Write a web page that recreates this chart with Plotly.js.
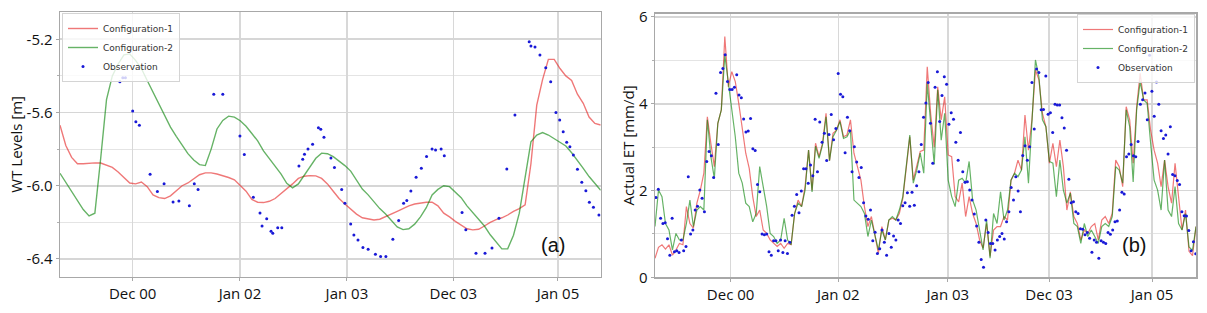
<!DOCTYPE html>
<html>
<head>
<meta charset="utf-8">
<script src="https://cdn.plot.ly/plotly-3.0.1.min.js"></script>
<style>html,body{margin:0;padding:0;background:#fff}#chart{width:1207px;height:313px}</style>
</head>
<body>
<div id="chart"></div>
<script>
// ---------- shared tick labels ----------
const xTickLabels = ['Dec 00', 'Jan 02', 'Jan 03', 'Dec 03', 'Jan 05'];
// positions of the tick labels on each panel (days from the start of the record)
const xTickDaysA = [250, 619, 987, 1353, 1713];
const xTickDaysB = [260, 630, 1007, 1355, 1709];

// ---------- panel (a): water-table levels ----------
// simulated series sampled every 20 days starting at day 0
const wtStepDays = 20;
const wtConfig1 = [-5.67, -5.78, -5.845, -5.88, -5.88, -5.877, -5.875, -5.876, -5.888, -5.90,
  -5.925, -5.955, -5.985, -5.99, -5.98, -6.005, -6.05, -6.065, -6.07, -6.055,
  -6.03, -6.0, -5.985, -5.96, -5.94, -5.93, -5.93, -5.936, -5.945, -5.955,
  -5.968, -6.0, -6.03, -6.075, -6.09, -6.092, -6.085, -6.07, -6.045, -6.02,
  -5.99, -5.96, -5.948, -5.945, -5.946, -5.96, -5.99, -6.03, -6.07, -6.1,
  -6.13, -6.155, -6.175, -6.183, -6.187, -6.183, -6.17, -6.155, -6.14, -6.125,
  -6.11, -6.10, -6.095, -6.09, -6.09, -6.11, -6.15, -6.17, -6.195, -6.215,
  -6.235, -6.241, -6.238, -6.22, -6.2, -6.185, -6.175, -6.16, -6.14, -6.125,
  -6.105, -5.88, -5.56, -5.42, -5.31, -5.31, -5.36, -5.40, -5.425, -5.50,
  -5.55, -5.625, -5.66, -5.668];
const wtConfig2 = [-5.932, -5.98, -6.035, -6.08, -6.13, -6.165, -6.15, -5.85, -5.53, -5.40,
  -5.335, -5.285, -5.28, -5.315, -5.36, -5.425, -5.49, -5.555, -5.62, -5.68,
  -5.73, -5.78, -5.825, -5.86, -5.885, -5.89, -5.80, -5.69, -5.643, -5.62,
  -5.625, -5.645, -5.675, -5.715, -5.755, -5.81, -5.85, -5.89, -5.935, -5.987,
  -6.012, -5.99, -5.945, -5.896, -5.85, -5.822, -5.825, -5.841, -5.865, -5.89,
  -5.92, -5.97, -6.018, -6.05, -6.09, -6.125, -6.155, -6.19, -6.225, -6.24,
  -6.235, -6.21, -6.17, -6.12, -6.05, -6.02, -6.0, -6.005, -6.035, -6.065,
  -6.11, -6.148, -6.185, -6.22, -6.268, -6.305, -6.345, -6.345, -6.27, -6.15,
  -5.95, -5.76, -5.723, -5.71, -5.723, -5.743, -5.759, -5.783, -5.82, -5.86,
  -5.905, -5.95, -5.99, -6.025];
// observations (irregular dates)
const wtObsDays = [206, 216, 225, 250, 261, 273, 310, 335, 358, 389,
  409, 445, 462, 475, 529, 560, 619, 634, 665, 688,
  695, 711, 726, 732, 749, 763, 822, 835, 841, 853,
  869, 889, 897, 908, 932, 944, 969, 980, 1000, 1011,
  1025, 1042, 1060, 1085, 1103, 1121, 1145, 1165, 1182, 1193,
  1207, 1225, 1243, 1261, 1280, 1292, 1311, 1322, 1383, 1396,
  1431, 1462, 1486, 1510, 1537, 1565, 1614, 1620, 1634, 1651,
  1671, 1688, 1706, 1719, 1731, 1743, 1754, 1766, 1780, 1795,
  1809, 1821, 1835, 1854];
const wtObs = [-5.432, -5.41, -5.41, -5.592, -5.65, -5.67, -5.937, -6.032, -5.989, -6.089,
  -6.083, -6.109, -5.989, -6.021, -5.50, -5.50, -5.728, -5.83, -6.063, -6.149,
  -6.22, -6.18, -6.249, -6.26, -6.23, -6.23, -5.892, -5.855, -5.828, -5.80,
  -5.774, -5.683, -5.692, -5.735, -5.848, -5.90, -6.02, -6.096, -6.209, -6.269,
  -6.296, -6.338, -6.347, -6.374, -6.387, -6.387, -6.292, -6.19, -6.096, -6.081,
  -6.029, -5.954, -5.905, -5.841, -5.80, -5.805, -5.80, -5.836, -6.146, -6.241,
  -6.369, -6.369, -6.34, -6.178, -5.908, -5.613, -5.213, -5.237, -5.242, -5.286,
  -5.355, -5.432, -5.60, -5.641, -5.705, -5.763, -5.787, -5.832, -5.91, -5.981,
  -6.027, -6.09, -6.118, -6.16];

// ---------- panel (b): actual ET ----------
// simulated series sampled every 12 days starting at day 0
const etStepDays = 12;
const etConfig1 = [0.44, 0.69, 0.75, 0.65, 0.75, 0.51, 0.63, 0.78, 0.75, 1.63,
  1.24, 1.13, 1.71, 2.01, 2.40, 3.70, 3.09, 2.55, 3.55, 3.86,
  5.55, 4.39, 4.74, 4.51, 4.01, 3.43, 2.86, 2.51, 1.86, 1.40,
  1.55, 1.09, 1.01, 0.86, 0.78, 0.71, 0.78, 0.67, 0.78,
  0.75, 1.47, 1.78, 1.63, 2.09, 2.93, 2.01, 3.09, 2.78, 3.09,
  3.78, 2.69, 3.32, 3.39, 3.63, 3.24, 3.28, 3.63, 2.86, 2.55,
  2.24, 1.63, 1.17, 1.40, 1.01, 0.55, 1.17, 0.86, 1.32, 1.36,
  1.32, 1.47, 1.82, 2.55, 3.24, 2.24, 2.55, 2.90, 2.93, 4.85,
  3.75, 3.0, 4.39, 3.63, 4.16, 2.82, 2.78, 1.86, 1.74, 2.17,
  1.40, 1.86, 1.47, 1.24, 0.86, 0.67, 1.24, 0.48, 1.09, 1.17,
  1.17, 1.40, 1.32, 2.24, 2.40, 2.70, 2.47, 3.74, 2.93, 3.63,
  4.78, 4.55, 3.78, 3.47, 2.63, 3.09, 2.55, 3.16, 2.55, 1.55,
  1.97, 1.40, 1.24, 0.86, 1.09, 1.01, 1.17, 1.24, 0.86, 1.32,
  1.40, 1.24, 1.47, 2.70, 2.55, 2.09, 3.93, 3.63, 2.63, 3.93,
  4.70, 4.09, 4.09, 3.39, 2.93, 2.63, 2.09, 2.70, 2.09, 1.71,
  2.63, 1.78, 1.09, 1.55, 0.6, 0.5, 1.17];
const etConfig2 = [1.17, 2.01, 1.86, 1.24, 1.09, 0.63, 1.01, 0.86, 0.86, 1.24,
  1.78, 1.17, 1.55, 1.63, 1.55, 3.63, 2.78, 2.28, 3.55, 3.86,
  5.12, 4.47, 3.93, 3.24, 2.40, 2.17, 1.71, 1.63, 1.28, 1.47,
  2.55, 2.09, 1.63, 1.01, 0.94, 0.78, 0.86, 1.36, 0.86,
  0.75, 1.47, 1.71, 1.63, 2.01, 2.93, 1.97, 3.02, 2.74, 3.05,
  3.70, 2.69, 3.24, 3.39, 3.59, 3.20, 3.24, 3.39, 1.78, 1.71,
  1.63, 1.47, 0.94, 1.32, 0.94, 0.63, 1.09, 0.86, 1.32, 1.40,
  1.32, 1.55, 1.86, 2.55, 3.28, 2.17, 2.47, 2.86, 2.40, 4.47,
  3.6, 2.6, 4.32, 3.16, 3.78, 2.24, 1.86, 1.63, 2.24, 2.28,
  2.17, 2.67, 1.78, 1.55, 1.09, 0.63, 1.32, 0.44, 1.47, 1.24,
  1.97, 1.32, 1.55, 2.24, 2.40, 2.32, 2.47, 3.24, 2.17, 3.63,
  5.01, 4.62, 3.63, 3.47, 2.67, 2.63, 1.86, 2.70, 2.01, 1.71,
  1.94, 1.24, 1.17, 0.78, 1.24, 0.94, 1.09, 0.94, 0.78, 1.17,
  1.24, 1.17, 1.40, 2.55, 2.47, 2.17, 3.86, 3.47, 2.20, 3.86,
  4.51, 4.09, 4.01, 3.09, 2.24, 2.01, 1.55, 2.70, 1.55, 1.40,
  2.09, 1.24, 1.09, 1.47, 0.7, 0.62, 1.17];
// observations: regular series starting at day 3.4, one value every 7.93 days
const etObsStartDay = 3.4;
const etObsStepDays = 7.93;
const etObs = [1.84, 2.03, 1.36, 1.24, 1.26, 0.89, 0.51, 1.36, 0.59, 0.61,
  0.57, 0.86, 0.61, 0.71, 2.32, 1.00, 1.09, 1.55, 1.64, 2.01,
  1.82, 1.51, 2.67, 2.90, 2.80, 2.30, 4.24, 3.06, 4.72, 4.81,
  5.13, 4.51, 4.33, 4.33, 4.38, 4.67, 4.20, 4.14, 3.65, 3.35,
  3.37, 3.66, 2.96, 2.92, 2.14, 1.97, 1.00, 0.98, 1.00, 0.59,
  0.51, 0.84, 0.84, 0.61, 0.86, 0.57, 0.84,
  0.55, 0.81, 1.43, 1.64, 1.91, 1.49, 1.99, 2.50, 2.50, 2.17,
  2.59, 2.34, 3.64, 2.43, 3.58, 3.11, 3.32, 2.69, 3.29, 3.75,
  3.17, 3.43, 4.70, 4.22, 4.16, 2.87, 3.69, 3.38, 2.43, 3.01,
  2.66, 2.30, 2.53, 1.72, 1.41, 1.34, 1.55, 0.84, 1.04, 0.55,
  0.66, 1.09, 0.81, 0.51, 1.01, 0.69, 0.95, 0.86, 1.32, 1.24,
  1.65, 1.72, 1.95, 1.64, 1.96, 1.66, 2.11, 2.43, 3.06, 3.69, 4.02,
  4.49, 3.55, 2.63, 4.38, 4.74, 3.59, 4.19, 4.62, 4.45, 3.53,
  3.79, 3.64, 3.11, 2.70, 3.34, 2.43, 2.19, 2.20, 2.01, 1.78,
  1.46, 1.18, 0.81, 0.41, 0.23, 1.32, 1.03, 0.78, 0.78, 0.63,
  0.86, 0.94, 1.01, 0.88, 1.28, 1.51, 2.07, 1.78, 2.32, 1.99,
  1.51, 2.81, 3.03, 2.70, 3.01, 4.49, 3.42, 4.80, 4.72, 3.86,
  3.87, 4.64, 3.76, 3.79, 3.34, 3.99, 3.97, 3.97, 3.68, 3.44,
  2.93, 2.26, 1.72, 1.74, 1.51, 1.47, 1.12, 1.11, 0.98, 1.03,
  0.90, 0.58, 0.86, 0.81, 0.44, 0.84, 0.81, 0.78, 1.03, 0.99,
  1.09, 1.28, 1.30, 1.55, 1.96, 1.92, 2.78, 2.84, 3.06, 2.80,
  2.78, 3.13, 3.99, 4.09, 4.25, 3.63, 5.12, 4.29, 3.71, 4.50,
  3.99, 3.38, 3.20, 3.28, 2.84, 3.47, 2.37, 2.34, 2.23, 2.14,
  1.51, 1.42, 1.41, 1.08, 0.61, 0.82, 0.54];

const seriesNames = ['Configuration-1', 'Configuration-2', 'Observation'];

// ---------- styles ----------
const RED = 'rgba(228,30,30,0.6)';
const GREEN = 'rgba(0,128,0,0.6)';
const BLUE = 'rgb(25,25,215)';
const W = 1207, H = 313;

const traces = [
  {type:'scatter', mode:'lines', name:seriesNames[0], x0:0, dx:wtStepDays, y:wtConfig1,
   line:{color:RED, width:1.4}, xaxis:'x', yaxis:'y', legend:'legend'},
  {type:'scatter', mode:'lines', name:seriesNames[1], x0:0, dx:wtStepDays, y:wtConfig2,
   line:{color:GREEN, width:1.4}, xaxis:'x', yaxis:'y', legend:'legend'},
  {type:'scatter', mode:'markers', name:seriesNames[2], x:wtObsDays, y:wtObs,
   marker:{color:BLUE, size:3}, xaxis:'x', yaxis:'y', legend:'legend'},
  {type:'scatter', mode:'lines', name:seriesNames[0], x0:0, dx:etStepDays, y:etConfig1,
   line:{color:RED, width:1.2}, xaxis:'x2', yaxis:'y2', legend:'legend2'},
  {type:'scatter', mode:'lines', name:seriesNames[1], x0:0, dx:etStepDays, y:etConfig2,
   line:{color:GREEN, width:1.2}, xaxis:'x2', yaxis:'y2', legend:'legend2'},
  {type:'scatter', mode:'markers', name:seriesNames[2], x0:etObsStartDay, dx:etObsStepDays, y:etObs,
   marker:{color:BLUE, size:3}, xaxis:'x2', yaxis:'y2', legend:'legend2'}
];

const axisCommon = {
  showline:true, mirror:true, linecolor:'#a8a8a8', linewidth:1.5,
  ticks:'outside', ticklen:3, tickwidth:1, tickcolor:'#a8a8a8',
  showgrid:true, gridcolor:'#d8d8d8', gridwidth:1.3, zeroline:false,
  tickfont:{family:'Open Sans, sans-serif', size:15, color:'#111'}
};
const legendCommon = {
  bgcolor:'rgba(255,255,255,0.8)', bordercolor:'#d4d4d4', borderwidth:1,
  font:{family:'DejaVu Sans, sans-serif', size:9, color:'#333'},
  itemwidth:30, yanchor:'top', tracegroupgap:0
};

const layout = {
  width:W, height:H,
  margin:{l:0, r:0, t:0, b:0},
  paper_bgcolor:'#fff', plot_bgcolor:'#fff',
  font:{family:'Open Sans, sans-serif', size:15, color:'#111'},
  showlegend:true,
  xaxis: Object.assign({}, axisCommon, {
    domain:[60/W, 600.7/W], range:[0, 1860], anchor:'y',
    tickmode:'array', tickvals:xTickDaysA, ticktext:xTickLabels
  }),
  yaxis: Object.assign({}, axisCommon, {
    domain:[(H-276.7)/H, (H-12)/H], range:[-6.497, -5.051], anchor:'x',
    tickmode:'array', tickvals:[-6.4, -6.0, -5.6, -5.2], ticktext:['-6.4', '-6.0', '-5.6', '-5.2'],
    gridcolor:'#d6d6d6', gridwidth:1.8,
    minor:{tickmode:'array', tickvals:[-6.2, -5.8, -5.4], showgrid:true, gridcolor:'#e4e4e4', gridwidth:1,
           ticks:'outside', ticklen:2, tickcolor:'#b0b0b0'},
    title:{text:'WT Levels [m]', font:{size:15}, standoff:0}
  }),
  xaxis2: Object.assign({}, axisCommon, {
    domain:[655/W, 1196/W], range:[0, 1860], anchor:'y2',
    tickmode:'array', tickvals:xTickDaysB, ticktext:xTickLabels
  }),
  yaxis2: Object.assign({}, axisCommon, {
    domain:[(H-277.3)/H, (H-13.5)/H], range:[0, 6.08], anchor:'x2',
    tickmode:'array', tickvals:[0, 2, 4, 6], ticktext:['0', '2', '4', '6'],
    gridcolor:'#d6d6d6', gridwidth:1.8,
    minor:{tickmode:'array', tickvals:[1, 3, 5], showgrid:true, gridcolor:'#e4e4e4', gridwidth:1,
           ticks:'outside', ticklen:2, tickcolor:'#b0b0b0'},
    title:{text:'Actual ET [mm/d]', font:{size:15}, standoff:0}
  }),
  legend: Object.assign({}, legendCommon, {x:62/W, y:(H-13)/H, xanchor:'left'}),
  legend2: Object.assign({}, legendCommon, {x:1195/W, y:(H-14)/H, xanchor:'right'}),
  annotations:[
    {text:'(a)', xref:'x domain', yref:'y domain', x:0.9377, y:0.07, showarrow:false,
     font:{family:'Liberation Sans, Arial, sans-serif', size:20, color:'#111'}},
    {text:'(b)', xref:'x2 domain', yref:'y2 domain', x:0.9113, y:0.073, showarrow:false,
     font:{family:'Liberation Sans, Arial, sans-serif', size:20, color:'#111'}}
  ]
};

Plotly.newPlot('chart', traces, layout, {displayModeBar:false, staticPlot:true});
</script>
</body>
</html>
